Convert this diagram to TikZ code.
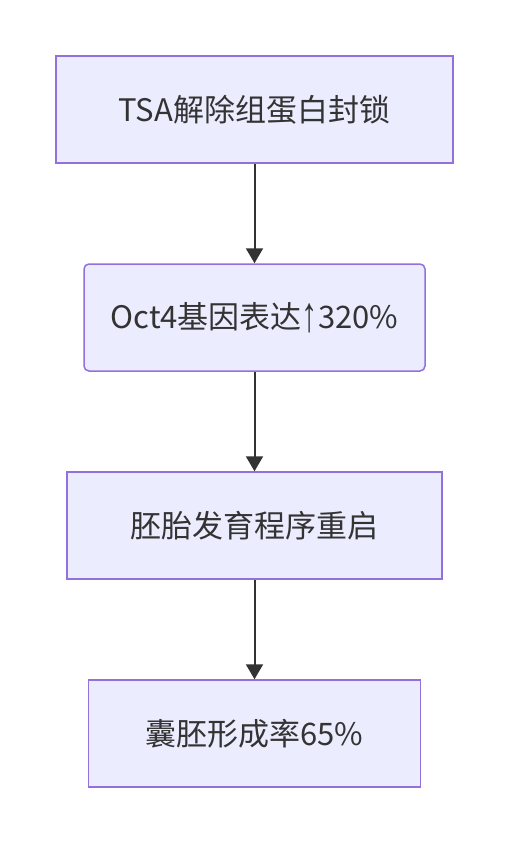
\documentclass[tikz,border=0pt]{standalone}
\usepackage{graphicx}
\usepackage{fontspec}
\setmainfont{Noto Sans CJK SC}
\newfontfamily\arrowfont{Liberation Sans}
\newcommand{\uparr}{\raisebox{-0.08em}{\scalebox{1.05}[1.6]{\arrowfont ↑}}}
\usetikzlibrary{positioning}
\usetikzlibrary{arrows.meta}
\definecolor{boxfill}{HTML}{ECECFF}
\definecolor{boxline}{HTML}{9370DB}
\definecolor{ink}{HTML}{333333}

\begin{document}
\begin{tikzpicture}[x=1pt,y=1pt,
            node distance = 99.5pt,
            box/.style = {draw=boxline,fill=boxfill,line width=1.5pt,
                minimum height=107pt,text=ink,
                font=\fontsize{31}{36}\selectfont},
            roundbox/.style = {box,rounded corners=5pt},
            link/.style = {draw=ink,line width=2pt,
                -{Triangle[length=15pt,width=17pt]}}]
            \useasboundingbox (0,0) rectangle (508,-844);
            \node[box,minimum width=397pt] (tsa) at (254.5,-109.5) {TSA解除组蛋白封锁};
            \node[roundbox,minimum width=341pt,below=of tsa] (oct) {Oct4基因表达\uparr320\%};
            \node[box,minimum width=375pt,below=of oct] (restart) {胚胎发育程序重启};
            \node[box,minimum width=332pt,below=of restart] (blast) {囊胚形成率65\%};
            \path
                (tsa) edge[link] (oct)
                (oct) edge[link] (restart)
                (restart) edge[link] (blast);
\end{tikzpicture}
\end{document}
